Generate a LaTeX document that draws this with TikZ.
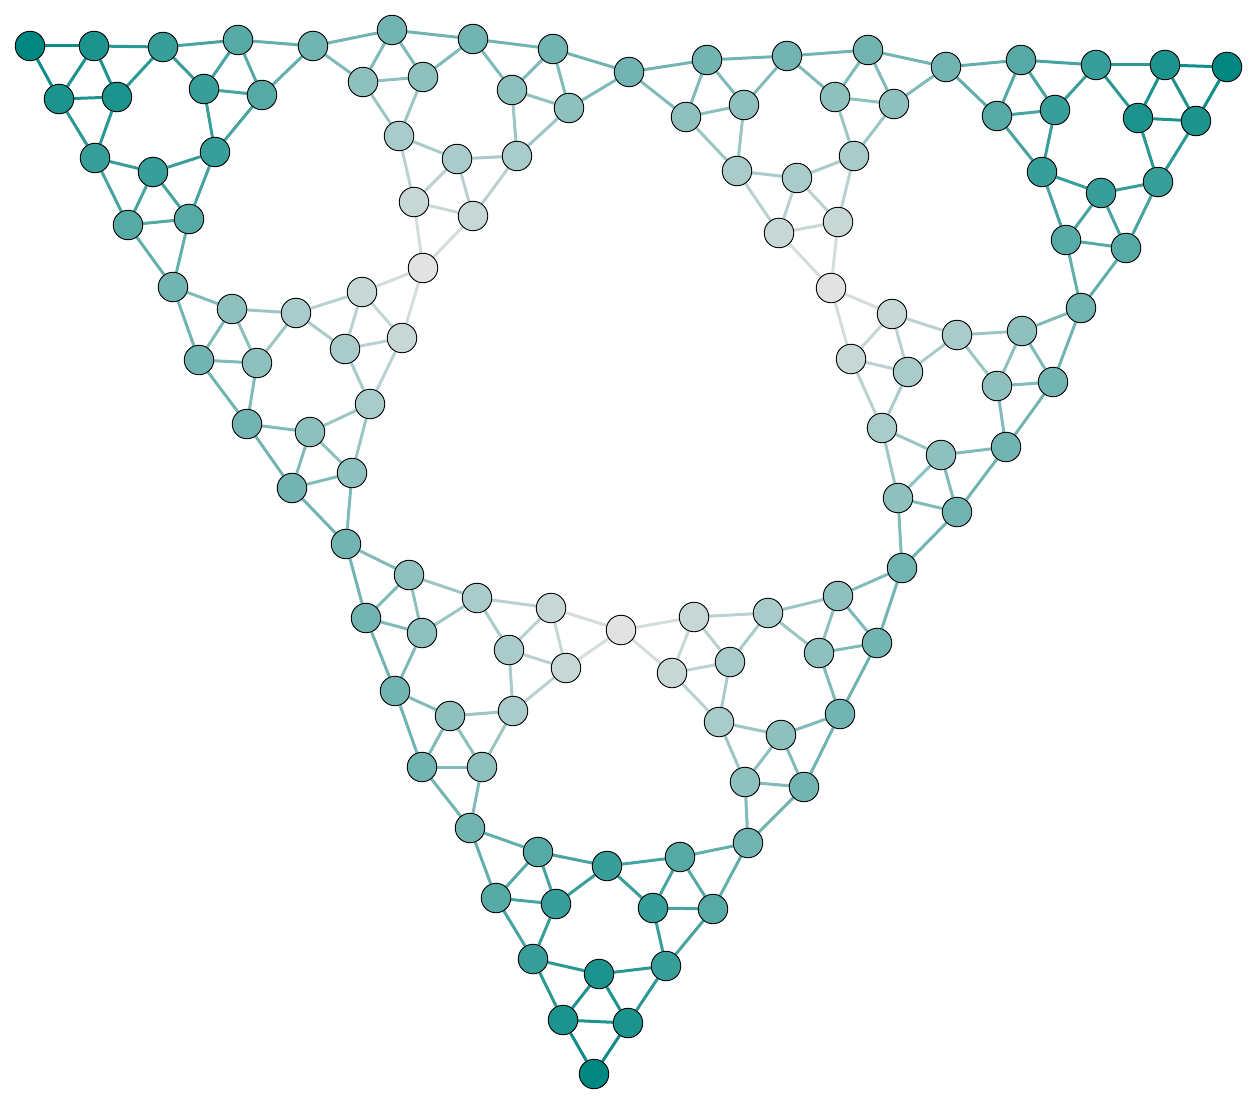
\documentclass[tikz,border=0pt]{standalone}
\usepackage{tikz}
\usetikzlibrary{backgrounds}
\definecolor{gasketteal}{HTML}{008782}
\definecolor{gasketgrey}{HTML}{E2E2E2}
% hops from the nearest grey vertex, stored per node
\newcommand{\hop}[1]{\csname hop@#1\endcsname}
\newcommand{\wire}[2]{%
  \edef\hopa{\hop{#1}}\edef\hopb{\hop{#2}}%
  \pgfmathtruncatemacro{\mixpct}{6.25*(\hopa+\hopb)}%
  \draw[edge, draw=gasketteal!\mixpct!gasketgrey] (#1) -- (#2);}

\begin{document}
\begin{tikzpicture}[x=1pt, y=-1pt,
  vertex/.style={circle, draw=black, line width=0.9pt, minimum size=29.5pt, inner sep=0pt},
  edge/.style={line width=3pt}]
\useasboundingbox (0,0) rectangle (1258,1105);
% vertices: name / x / y / hops
\foreach \n/\x/\y/\h in {1/30/46/8, 2/94/46/7, 3/59/99/7, 4/117/97/7, 5/163/47/6, 6/95/158/6,
  7/238/40/5, 8/204/89/6, 9/262/95/5, 10/313/46/4, 11/215/152/6, 12/153/172/6, 13/128/225/5,
  14/189/219/5, 15/173/287/4,
  16/392/30/4, 17/363/82/3, 18/423/77/3, 19/473/39/4, 20/399/136/2, 21/553/49/4, 22/512/90/3,
  23/569/108/3, 24/629/72/4, 25/517/156/2, 26/457/159/2, 27/414/202/1, 28/473/216/1, 29/423/268/0,
  30/232/309/3, 31/199/360/4, 32/257/363/3, 33/296/313/2, 34/247/424/4, 35/362/292/1, 36/402/338/1,
  37/345/349/2, 38/370/404/2, 39/292/488/4, 40/352/473/3, 41/310/432/3, 42/346/544/4,
  43/409/575/3, 44/477/598/2, 45/366/618/4, 46/422/633/3, 47/395/691/4, 48/551/608/1, 49/621/630/0,
  50/509/650/2, 51/566/668/1, 52/513/711/2, 53/450/716/3, 54/422/767/4, 55/482/767/3, 56/470/828/4,
  57/694/617/1, 58/768/613/2, 59/672/673/1, 60/730/662/2, 61/719/722/2, 62/838/596/3, 63/902/568/4,
  64/877/643/4, 65/819/653/3, 66/840/714/4, 67/745/782/3, 68/804/787/4, 69/781/735/3, 70/748/843/4,
  71/538/852/5, 72/607/866/6, 73/496/898/5, 74/556/904/6, 75/533/959/6, 76/680/857/5, 77/713/909/5,
  78/653/908/6, 79/666/966/6, 80/563/1020/7, 81/628/1023/7, 82/599/974/7, 83/594/1074/8,
  84/707/60/4, 85/686/117/3, 86/744/105/3, 87/787/56/4, 88/737/171/2, 89/868/50/4, 90/894/104/3,
  91/835/97/3, 92/946/67/4, 93/854/156/2, 94/779/233/1, 95/838/222/1, 96/797/178/2, 97/831/288/0,
  98/1165/65/7, 99/1196/121/7, 100/1138/118/7, 101/1227/67/8, 102/1096/65/6, 103/1158/182/6,
  104/1021/60/5, 105/997/116/5, 106/1055/110/6, 107/1042/172/6, 108/1066/240/5, 109/1126/248/5,
  110/1101/193/6, 111/1081/308/4,
  112/892/314/1, 113/851/359/1, 114/908/372/2, 115/957/335/2, 116/882/428/2, 117/1022/331/3,
  118/1053/382/4, 119/997/386/3, 120/1006/447/4, 121/898/498/3, 122/957/512/4, 123/941/455/3} {
  \pgfmathtruncatemacro{\pct}{12.5*\h}
  \node[vertex, fill=gasketteal!\pct!gasketgrey] (n\n) at (\x,\y) {};
  \expandafter\xdef\csname hop@n\n\endcsname{\h}
}
% smallest gaskets: corners a, b, c / midpoints ab, ac, bc
\begin{scope}[on background layer]
\foreach \ca/\cb/\cc/\mab/\mac/\mbc in {1/5/6/2/3/4, 10/5/11/7/9/8, 15/6/11/13/14/12,
  10/19/20/16/17/18, 24/19/25/21/23/22, 29/20/25/27/28/26,
  15/33/34/30/31/32, 29/33/38/35/36/37, 42/34/38/39/40/41,
  42/44/47/43/45/46, 49/44/52/48/51/50, 56/47/52/54/55/53,
  49/58/61/57/59/60, 63/58/66/62/64/65, 70/61/66/67/68/69,
  56/72/75/71/73/74, 70/72/79/76/77/78, 83/75/79/80/81/82,
  24/87/88/84/85/86, 92/87/93/89/90/91, 97/88/93/94/95/96,
  101/102/103/98/99/100, 92/102/107/104/105/106, 111/107/103/108/109/110,
  97/115/116/112/113/114, 111/115/120/117/118/119, 63/116/120/121/122/123} {
  \wire{n\ca}{n\mab} \wire{n\ca}{n\mac} \wire{n\mab}{n\mac}
  \wire{n\cb}{n\mab} \wire{n\cb}{n\mbc} \wire{n\mab}{n\mbc}
  \wire{n\cc}{n\mac} \wire{n\cc}{n\mbc} \wire{n\mac}{n\mbc}
}
\end{scope}
\end{tikzpicture}
\end{document}
